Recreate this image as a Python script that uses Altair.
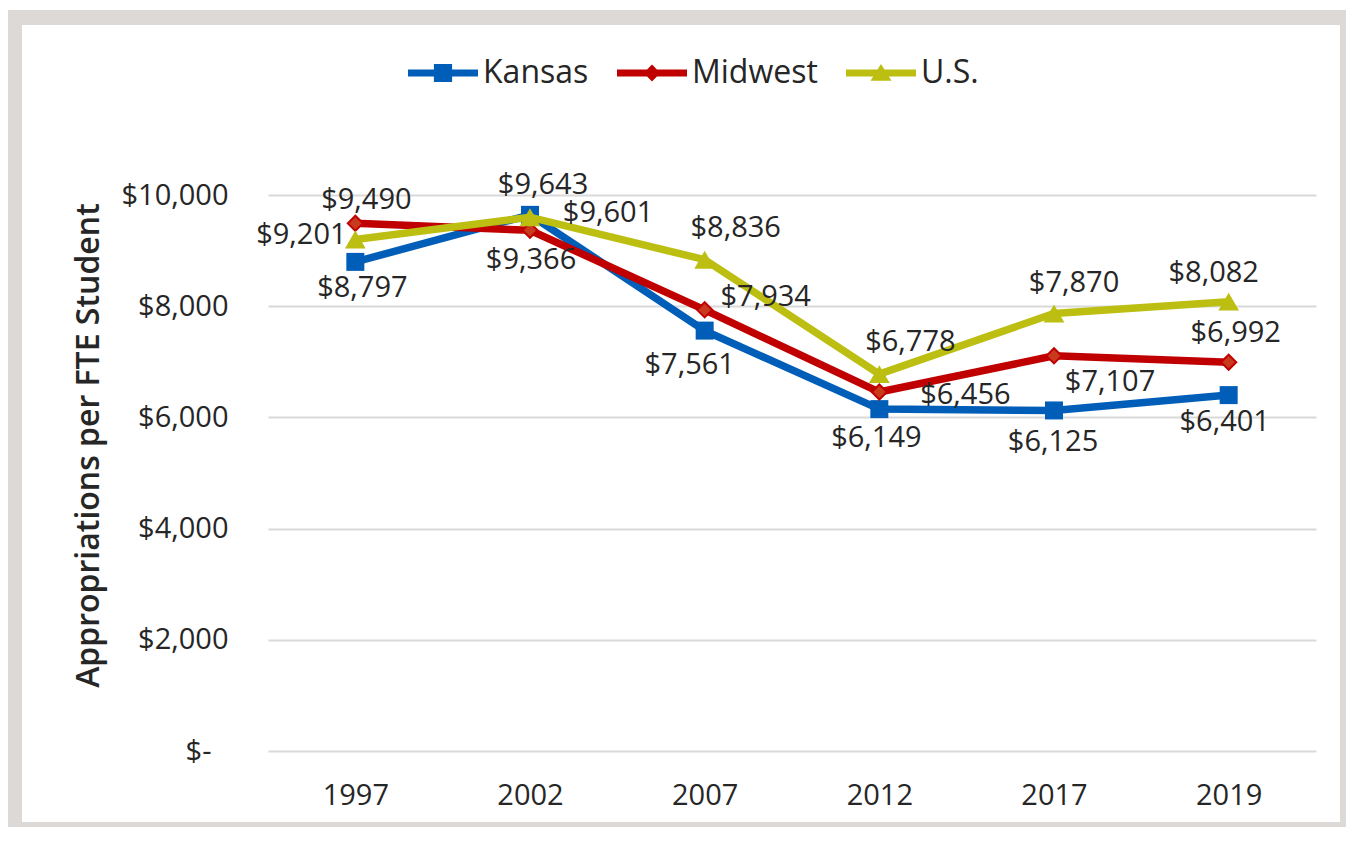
import altair as alt
import pandas as pd

years = ["1997", "2002", "2007", "2012", "2017", "2019"]
series_names = ["Kansas", "Midwest", "U.S."]
kansas = [8797, 9643, 7561, 6149, 6125, 6401]
midwest = [9490, 9366, 7934, 6456, 7107, 6992]
us = [9201, 9601, 8836, 6778, 7870, 8082]

# label placement offsets (pixels) per point
kansas_dx = [7, 13, -15, -3, -1, -4]
kansas_dy = [26, -30, 34, 29, 32, 27]
midwest_dx = [11, 1, 61, 86, 56, 7]
midwest_dy = [-23, 30, -13, 3, 26, -29]
us_dx = [-54, 78, 31, 31, 20, -15]
us_dy = [-4, -4, -32, -32, -30, -29]

rows = []
for name, vals, dxs, dys in [("Kansas", kansas, kansas_dx, kansas_dy),
                             ("Midwest", midwest, midwest_dx, midwest_dy),
                             ("U.S.", us, us_dx, us_dy)]:
    for yr, v, dx, dy in zip(years, vals, dxs, dys):
        rows.append({"year": yr, "series": name, "value": v, "dx": dx, "dy": dy})
df = pd.DataFrame(rows)

FONT = "Open Sans"
TXT = "#262626"
line_colors = {"Kansas": "#005EB8", "Midwest": "#C00000", "U.S.": "#BCBF12"}

x_enc = alt.X("year:O", sort=years, title=None,
              axis=alt.Axis(labelAngle=0, labelFontSize=29, labelFont=FONT,
                            labelColor=TXT, ticks=False, tickSize=0, domain=False,
                            labelPadding=30, grid=False))
y_enc = alt.Y("value:Q", title="Appropriations per FTE Student",
              scale=alt.Scale(domain=[0, 10000], nice=False),
              axis=alt.Axis(values=[0, 2000, 4000, 6000, 8000, 10000],
                            labelExpr="datum.value === 0 ? '$-' : format(datum.value, '$,.0f')",
                            labelFontSize=29, labelFont=FONT, labelColor=TXT,
                            ticks=False, tickSize=0, domain=False,
                            labelPadding=alt.ExprRef(expr="datum.value === 0 ? 57 : 40"),
                            grid=True, gridColor="#D9D9D9", gridWidth=2,
                            titleFont=FONT, titleFontSize=32, titleFontWeight=600,
                            titleColor=TXT, titleAngle=270, titleX=-180, titleY=250,
                            titleAlign="center", titleBaseline="middle"))

base = alt.Chart(df)

# grey frame around the chart
frame = alt.Chart(pd.DataFrame({"a": [1]})).mark_rect(
    fill=None, stroke="#DCD9D6", strokeWidth=15).encode(
    x=alt.value(-253.5), x2=alt.value(1079.5), y=alt.value(-177.5), y2=alt.value(634.5))

layers = []
point_specs = {
    "Kansas": dict(shape="square", size=324, fill="#005EB8", strokeWidth=0),
    "Midwest": dict(shape="diamond", size=230, fill="#C8391E", stroke="#C00000", strokeWidth=2),
    "U.S.": dict(shape="triangle-up", size=430, fill="#BCBF12", strokeWidth=0),
}
for name in series_names:
    sub = base.transform_filter(alt.datum.series == name)
    layers.append(sub.mark_line(strokeWidth=7.5, color=line_colors[name]).encode(x=x_enc, y=y_enc))
    layers.append(sub.mark_point(filled=True, opacity=1, **point_specs[name]).encode(x=x_enc, y=y_enc))

# legend carrier (no visible data)
leg_paths = [
    "M-1,-0.1H1V0.1H-1Z M-0.26,-0.26H0.26V0.26H-0.26Z",
    "M-1,-0.1H1V0.1H-1Z M0,-0.24L0.24,0L0,0.24L-0.24,0Z",
    "M-1,-0.1H1V0.1H-1Z M0,-0.26L0.3,0.22H-0.3Z",
]
legend_layer = base.transform_filter(alt.datum.series == "none").mark_point(filled=True, opacity=1).encode(
    x=x_enc, y=y_enc,
    color=alt.Color("series:N", scale=alt.Scale(domain=series_names,
                                                range=[line_colors[s] for s in series_names]),
                    legend=alt.Legend(title=None, orient="none", legendX=140, legendY=-157,
                                      direction="horizontal", symbolSize=4900,
                                      symbolStrokeWidth=0, symbolOpacity=1, labelFontSize=32,
                                      labelFont=FONT, labelColor=TXT, labelOffset=5,
                                      columnPadding=28, padding=0)),
    shape=alt.Shape("series:N", scale=alt.Scale(domain=series_names, range=leg_paths), legend=None),
)
layers.append(legend_layer)

text = base.mark_text(fontSize=29, font=FONT, color=TXT, align="center", baseline="middle",
                      dx=alt.ExprRef(expr="datum.dx"), dy=alt.ExprRef(expr="datum.dy")).encode(
    x=x_enc, y=y_enc,
    text=alt.Text("value:Q", format="$,.0f"),
)
layers.append(text)
layers.append(frame)

chart = alt.layer(*layers).properties(
    width=1048, height=556,
    autosize=alt.AutoSizeParams(type="none"),
    padding={"left": 260, "top": 187, "right": 30, "bottom": 76},
    background="white",
).configure_view(stroke=None)

chart.save("out.html", embed_options={"renderer": "svg", "actions": False})
